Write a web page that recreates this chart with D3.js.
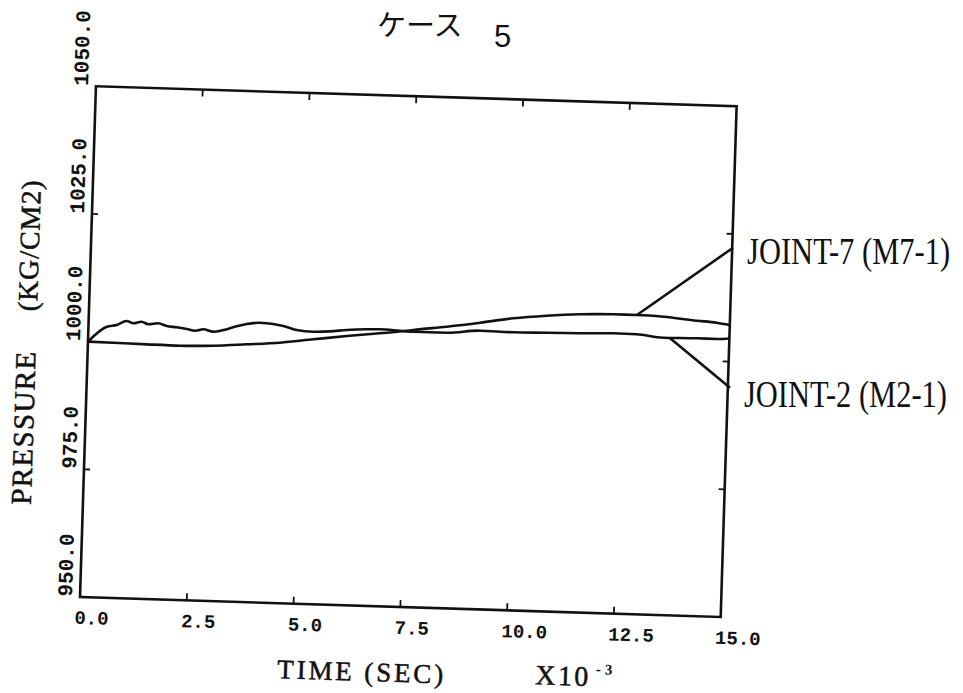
<!DOCTYPE html>
<html><head><meta charset="utf-8">
<script src="https://cdn.jsdelivr.net/npm/d3@7"></script>
<style>html,body{margin:0;padding:0;background:#fff;} svg{display:block;}</style>
</head><body>
<script>
// ---- data ----
const titleText = "ケース";
const titleNum = "5";
const xTicks = [0, 2.5, 5, 7.5, 10, 12.5, 15];
const xTickLabels = ["0.0", "2.5", "5.0", "7.5", "10.0", "12.5", "15.0"];
const yTicks = [950, 975, 1000, 1025, 1050];
const yTickLabels = ["950.0", "975.0", "1000.0", "1025.0", "1050.0"];
const xAxisTitle = "TIME (SEC)";
const xAxisScale = "X10";
const xAxisExp = "-3";
const yAxisTitle1 = "PRESSURE";
const yAxisTitle2 = "(KG/CM2)";
const seriesNames = ["JOINT-7 (M7-1)", "JOINT-2 (M2-1)"];

const joint7Time = [0, 0.59, 1.38, 2.16, 2.93, 3.71, 4.49, 5.27, 6.05, 6.82, 7.41, 7.60, 8.38, 9.16, 9.93, 10.71, 11.49, 12.27, 12.82, 13.44, 14.22, 14.69, 15.0];
const joint7Pressure = [1000.0, 999.94, 999.83, 999.76, 999.97, 1000.44, 1000.96, 1001.83, 1002.68, 1003.41, 1004.01, 1004.26, 1005.11, 1006.09, 1007.16, 1007.87, 1008.35, 1008.55, 1008.56, 1008.39, 1007.81, 1007.54, 1007.17];

const joint2Time = [0, 0.43, 0.66, 0.89, 1.05, 1.24, 1.40, 1.63, 1.83, 2.06, 2.30, 2.50, 2.69, 2.92, 3.16, 3.43, 3.70, 4.01, 4.32, 4.56, 4.87, 5.26, 5.65, 6.04, 6.51, 6.82, 7.29, 7.60, 8.38, 9.16, 9.94, 10.72, 11.50, 12.28, 12.83, 13.45, 14.24, 14.70, 15.0];
const joint2Pressure = [1000.0, 1003.03, 1003.42, 1004.27, 1003.86, 1004.22, 1003.76, 1004.01, 1003.53, 1003.34, 1003.07, 1002.79, 1003.11, 1002.71, 1003.10, 1003.82, 1004.41, 1004.75, 1004.58, 1004.25, 1003.55, 1003.32, 1003.49, 1003.85, 1004.11, 1004.19, 1004.04, 1003.93, 1003.93, 1004.53, 1004.42, 1004.54, 1004.63, 1004.83, 1004.78, 1004.28, 1004.37, 1004.35, 1004.53];

// leader lines: start on the curve at this time, end on right axis at this pressure
const leaderFromTime = [12.82, 13.6];
const leaderToTime = [15.02, 15.05];
const leaderToPressure = [1022.3, 994.9];

// ---- layout ----
const W = 963, H = 693;
const originX = 80, originY = 597, angle = 1.787;
const plotW = 641, plotH = 511;
const ink = "#111";

const svg = d3.select("body").append("svg").attr("width", W).attr("height", H);
svg.append("rect").attr("width", W).attr("height", H).attr("fill", "#fff");

const x = d3.scaleLinear().domain([0, 15]).range([0, plotW]);
const y = d3.scaleLinear().domain([950, 1050]).range([0, -plotH]);

const rad = angle * Math.PI / 180;
function toImage(t, p) {
  const u = x(t), w = y(p);
  return [originX + u * Math.cos(rad) - w * Math.sin(rad), originY + u * Math.sin(rad) + w * Math.cos(rad)];
}

const g = svg.append("g").attr("transform", `translate(${originX},${originY}) rotate(${angle})`);

// frame
g.append("rect").attr("x", 0).attr("y", y(1050)).attr("width", x(15)).attr("height", -y(1050))
  .attr("fill", "none").attr("stroke", ink).attr("stroke-width", 2.6);

// x ticks (inward, bottom and top)
const innerX = xTicks.filter(d => d > 0 && d < 15);
g.selectAll(".xtb").data(innerX).join("line")
  .attr("x1", d => x(d)).attr("x2", d => x(d)).attr("y1", 0).attr("y2", -7)
  .attr("stroke", ink).attr("stroke-width", 1.8);
g.selectAll(".xtt").data(innerX).join("line")
  .attr("x1", d => x(d)).attr("x2", d => x(d)).attr("y1", y(1050)).attr("y2", y(1050) + 7)
  .attr("stroke", ink).attr("stroke-width", 1.8);
// y ticks (inward, left and right)
const innerY = yTicks.filter(d => d > 950 && d < 1050);
g.selectAll(".ytl").data(innerY).join("line")
  .attr("x1", 0).attr("x2", 6).attr("y1", d => y(d)).attr("y2", d => y(d))
  .attr("stroke", ink).attr("stroke-width", 1.8);
g.selectAll(".ytr").data(innerY).join("line")
  .attr("x1", x(15)).attr("x2", x(15) - 6).attr("y1", d => y(d)).attr("y2", d => y(d))
  .attr("stroke", ink).attr("stroke-width", 1.8);

// x tick labels
g.selectAll(".xl").data(xTicks).join("text")
  .attr("x", d => x(d) - 5).attr("y", 27)
  .attr("font-family", "Liberation Mono, DejaVu Sans Mono, monospace").attr("font-weight", "bold")
  .attr("font-size", 19).attr("fill", ink)
  .text((d, i) => xTickLabels[i]);

// y tick labels (rotated)
g.selectAll(".yl").data(yTicks).join("text")
  .attr("transform", d => `translate(-8,${y(d)}) rotate(-90)`)
  .attr("font-family", "Liberation Mono, DejaVu Sans Mono, monospace").attr("font-weight", "bold")
  .attr("font-size", 21).attr("fill", ink)
  .text((d, i) => yTickLabels[i]);

// axis titles
const serif = "Liberation Serif, DejaVu Serif, serif";
function heavy(sel) { return sel.attr("stroke", ink).attr("stroke-width", 0.5); }
heavy(g.append("text").attr("x", 199.5).attr("y", 75)
  .attr("font-family", serif).attr("font-size", 27).attr("fill", ink)
  .attr("textLength", 166).attr("lengthAdjust", "spacing").text(xAxisTitle));
heavy(g.append("text").attr("x", 457.6).attr("y", 73)
  .attr("font-family", serif).attr("font-size", 28).attr("fill", ink)
  .attr("textLength", 53).attr("lengthAdjust", "spacing").text(xAxisScale));
g.append("text").attr("x", 518).attr("y", 61)
  .attr("font-family", serif).attr("font-weight", "bold").attr("font-size", 15).attr("fill", ink)
  .attr("letter-spacing", 4)
  .text(xAxisExp);

heavy(g.append("text").attr("transform", `translate(-52,${-90.5}) rotate(-90)`)
  .attr("font-family", serif).attr("font-size", 29).attr("fill", ink)
  .attr("textLength", 153).attr("lengthAdjust", "spacing").text(yAxisTitle1));
heavy(g.append("text").attr("transform", `translate(-52,${-284}) rotate(-90)`)
  .attr("font-family", serif).attr("font-size", 28).attr("fill", ink)
  .attr("textLength", 131).attr("lengthAdjust", "spacing").text(yAxisTitle2));

// series
const series = [
  {name: seriesNames[0], pts: joint7Time.map((t, i) => [t, joint7Pressure[i]])},
  {name: seriesNames[1], pts: joint2Time.map((t, i) => [t, joint2Pressure[i]])}
];
const line = d3.line().x(d => x(d[0])).y(d => y(d[1])).curve(d3.curveMonotoneX);
g.selectAll(".series").data(series).join("path")
  .attr("d", d => line(d.pts)).attr("fill", "none")
  .attr("stroke", ink).attr("stroke-width", 2.6).attr("stroke-linejoin", "round");

// leaders
function valueAt(pts, t) {
  const i = d3.bisector(d => d[0]).right(pts, t);
  const a = pts[Math.max(0, i - 1)], b = pts[Math.min(pts.length - 1, i)];
  if (a === b) return a[1];
  return a[1] + (b[1] - a[1]) * (t - a[0]) / (b[0] - a[0]);
}
series.forEach((s, i) => {
  const t0 = leaderFromTime[i];
  const p0 = valueAt(s.pts, t0);
  g.append("line")
    .attr("x1", x(t0)).attr("y1", y(p0))
    .attr("x2", x(leaderToTime[i])).attr("y2", y(leaderToPressure[i]))
    .attr("stroke", ink).attr("stroke-width", 2.6);
  const end = toImage(leaderToTime[i], leaderToPressure[i]);
  svg.append("text")
    .attr("transform", `translate(${end[0] + 14},${end[1] + (i === 0 ? 16 : 19)}) scale(1,1.22)`)
    .attr("font-family", serif).attr("font-size", 30.5).attr("fill", ink)
    .text(s.name);
});

// title (not rotated)
svg.append("text").attr("x", 377).attr("y", 36)
  .attr("font-family", "Noto Sans CJK JP, sans-serif").attr("font-size", 29).attr("fill", ink)
  .text(titleText);
svg.append("text").attr("x", 494).attr("y", 47)
  .attr("font-family", "Liberation Sans, sans-serif").attr("font-size", 31).attr("fill", ink)
  .text(titleNum);
</script>
</body></html>
